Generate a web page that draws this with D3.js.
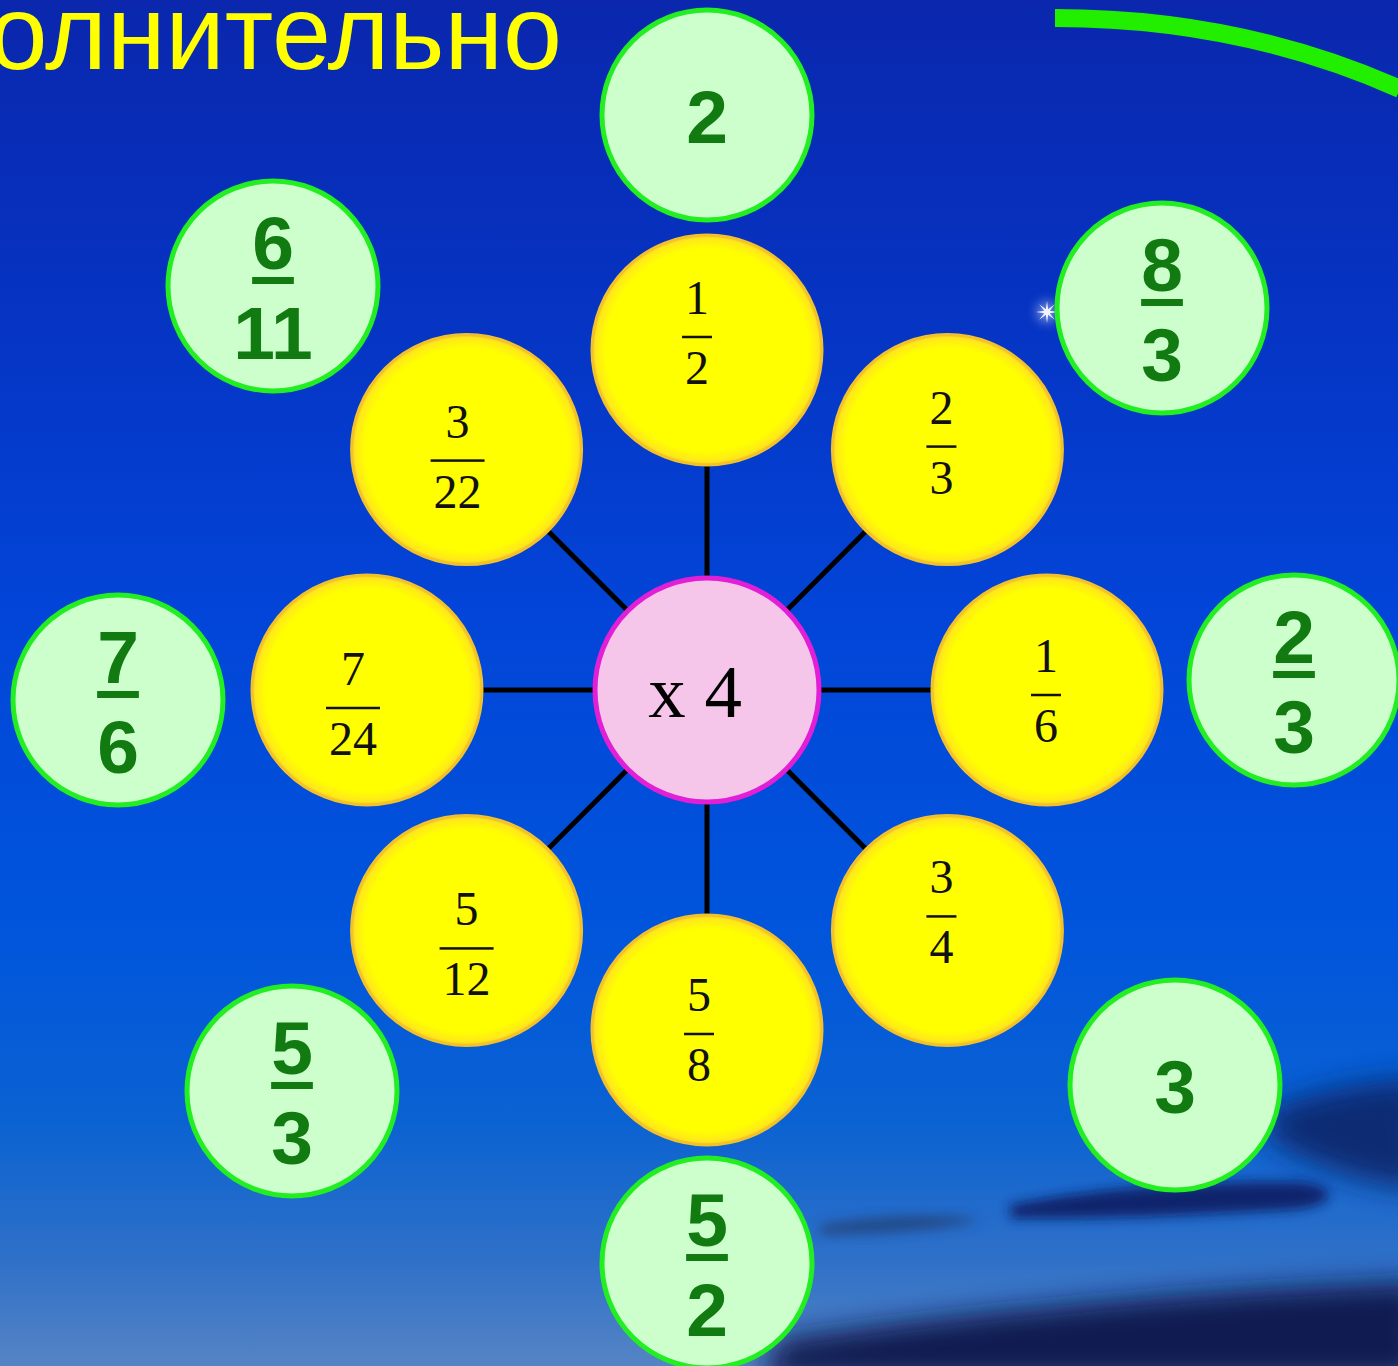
<!DOCTYPE html>
<html>
<head>
<meta charset="utf-8">
<script src="https://cdn.jsdelivr.net/npm/d3@7"></script>
<style>
  html, body { margin: 0; padding: 0; background: #0040d0; }
  svg { display: block; }
</style>
</head>
<body>
<svg id="chart" width="1398" height="1366"></svg>
<script>
// ---------- data ----------
const titleText = "Дополнительно";
const centerOperation = "x 4";
// order: top, top-right, right, bottom-right, bottom, bottom-left, left, top-left
const innerNumerators   = [1, 2, 1, 3, 5, 5, 7, 3];
const innerDenominators = [2, 3, 6, 4, 8, 12, 24, 22];
const outerNumerators   = [2, 8, 2, 3, 5, 5, 7, 6];
const outerDenominators = [null, 3, 3, null, 2, 3, 6, 11];

// ---------- layout (not data) ----------
const W = 1398, H = 1366;
const centre = { x: 707, y: 690 };
const innerDist = 340, innerR = 115, centreR = 112, outerR = 105;
const innerLabelShift = [[-10,-13],[-6,-3],[-1,5],[-6,-14],[-8,4],[0,18],[-14,18],[-9,11]];
const outerOffsets = [[0,-575],[455,-382],[587,-10],[468,395],[0,573],[-415,401],[-589,10],[-434,-404]];

const svg = d3.select("#chart");
const defs = svg.append("defs");

// background gradient
const bg = defs.append("linearGradient").attr("id","bg").attr("x1",0).attr("y1",0).attr("x2",0).attr("y2",1);
[[0,"#0a27ad"],[0.22,"#0633c2"],[0.45,"#0245d8"],[0.68,"#0055dc"],[0.82,"#0a62d2"],[0.92,"#2e70c8"],[1,"#5584c4"]]
  .forEach(([o,c]) => bg.append("stop").attr("offset",o).attr("stop-color",c));
svg.append("rect").attr("width",W).attr("height",H).attr("fill","url(#bg)");

const blur = defs.append("filter").attr("id","blur").attr("x","-50%").attr("y","-50%").attr("width","200%").attr("height","200%");
blur.append("feGaussianBlur").attr("stdDeviation",14);
const blurS = defs.append("filter").attr("id","blurS").attr("x","-50%").attr("y","-50%").attr("width","200%").attr("height","200%");
blurS.append("feGaussianBlur").attr("stdDeviation",6);

// clouds at bottom right
const clouds = svg.append("g");
clouds.append("path").attr("d","M1270,1110 C1320,1088 1380,1080 1420,1078 L1420,1190 C1370,1185 1310,1165 1270,1140 Z")
  .attr("fill","#102063").attr("filter","url(#blur)").attr("opacity",0.85);
clouds.append("path").attr("d","M1010,1205 C1080,1190 1200,1180 1300,1182 C1340,1186 1340,1206 1290,1210 C1200,1215 1090,1220 1010,1218 Z")
  .attr("fill","#0d1d62").attr("filter","url(#blurS)").attr("opacity",0.9);
clouds.append("path").attr("d","M780,1340 C900,1320 1100,1300 1250,1290 C1330,1285 1400,1282 1420,1282 L1420,1380 L760,1380 Z")
  .attr("fill","#0a154c").attr("filter","url(#blur)").attr("opacity",0.95);
clouds.append("path").attr("d","M820,1225 C870,1215 940,1212 980,1220 C950,1230 880,1235 820,1235 Z")
  .attr("fill","#24355f").attr("filter","url(#blurS)").attr("opacity",0.6);

// sparkle star
const sp = svg.append("g").attr("transform","translate(1047,312)");
sp.append("circle").attr("r",10).attr("fill","#ffffff").attr("opacity",0.5).attr("filter","url(#blurS)");
sp.append("path").attr("d", d3.range(16).map((i) => {
    const a = i * Math.PI / 8, r = i % 2 ? 3 : 11;
    return (i ? "L" : "M") + (r*Math.cos(a)).toFixed(2) + "," + (r*Math.sin(a)).toFixed(2);
  }).join("") + "Z").attr("fill","#ffffff").attr("opacity",0.9);

// title (cut at the left edge, as in the reference)
svg.append("text").attr("x",562).attr("y",69).attr("text-anchor","end")
  .attr("font-family","'Liberation Sans', Arial, sans-serif").attr("font-size",106)
  .attr("fill","#ffff00").text(titleText);

// green arc
svg.append("path").attr("d","M1055,18 Q1240,18 1400,89")
  .attr("fill","none").attr("stroke","#22ee00").attr("stroke-width",18);

// angle scale for inner positions
const angle = d3.scaleLinear().domain([0, innerNumerators.length]).range([0, 2*Math.PI]);
const inner = innerNumerators.map((n,i) => ({
  num: n, den: innerDenominators[i],
  x: centre.x + innerDist * Math.sin(angle(i)),
  y: centre.y - innerDist * Math.cos(angle(i)),
  sh: innerLabelShift[i]
}));

// spokes
svg.append("g").selectAll("line").data(inner).join("line")
  .attr("x1",centre.x).attr("y1",centre.y).attr("x2",d=>d.x).attr("y2",d=>d.y)
  .attr("stroke","#000").attr("stroke-width",5);

// yellow gradient
const yg = defs.append("radialGradient").attr("id","yg");
[[0,"#ffff00"],[0.88,"#ffff00"],[0.97,"#ffe81a"],[1,"#f6c526"]].forEach(([o,c]) => yg.append("stop").attr("offset",o).attr("stop-color",c));

// inner circles
const ig = svg.append("g").selectAll("g").data(inner).join("g");
ig.append("circle").attr("cx",d=>d.x).attr("cy",d=>d.y).attr("r",innerR)
  .attr("fill","url(#yg)").attr("stroke","#f3c22a").attr("stroke-width",3);
ig.each(function(d){
  const g = d3.select(this);
  const tx = d.x + d.sh[0], by = d.y + d.sh[1];
  const font = "'Liberation Serif', 'DejaVu Serif', serif";
  g.append("text").attr("x",tx).attr("y",by-23).attr("text-anchor","middle")
    .attr("font-family",font).attr("font-size",48).attr("fill","#111").text(d.num);
  const den = g.append("text").attr("x",tx).attr("y",by+47).attr("text-anchor","middle")
    .attr("font-family",font).attr("font-size",48).attr("fill","#111").text(d.den);
  const w = den.node().getComputedTextLength() + 6;
  g.append("rect").attr("x",tx - w/2).attr("y",by-1.25).attr("width",w).attr("height",2.5).attr("fill","#111");
});

// centre circle
svg.append("circle").attr("cx",centre.x).attr("cy",centre.y).attr("r",centreR)
  .attr("fill","#f5c6ea").attr("stroke","#e21fd6").attr("stroke-width",5);
svg.append("text").attr("x",centre.x-12).attr("y",centre.y+27).attr("text-anchor","middle")
  .attr("font-family","'Liberation Serif', serif").attr("font-size",75).attr("fill","#000")
  .attr("xml:space","preserve").text(centerOperation);

// outer answers
const outer = outerNumerators.map((n,i) => ({
  num: n, den: outerDenominators[i],
  x: centre.x + outerOffsets[i][0], y: centre.y + outerOffsets[i][1]
}));
const og = svg.append("g").selectAll("g").data(outer).join("g");
og.append("circle").attr("cx",d=>d.x).attr("cy",d=>d.y).attr("r",outerR)
  .attr("fill","#ccffcc").attr("stroke","#22ee22").attr("stroke-width",5);
og.each(function(d){
  const g = d3.select(this);
  const font = "'Liberation Sans', Arial, sans-serif";
  const col = "#117a11";
  if (d.den === null) {
    g.append("text").attr("x",d.x).attr("y",d.y+28).attr("text-anchor","middle")
      .attr("font-family",font).attr("font-weight","bold").attr("font-size",75).attr("fill",col).text(d.num);
  } else {
    const nt = g.append("text").attr("x",d.x).attr("y",d.y-17).attr("text-anchor","middle")
      .attr("font-family",font).attr("font-weight","bold").attr("font-size",75).attr("fill",col).text(d.num);
    const w = nt.node().getComputedTextLength();
    g.append("rect").attr("x",d.x - w/2).attr("y",d.y-9).attr("width",w).attr("height",7).attr("fill",col);
    g.append("text").attr("x",d.x).attr("y",d.y+73).attr("text-anchor","middle")
      .attr("font-family",font).attr("font-weight","bold").attr("font-size",75).attr("fill",col).text(d.den);
  }
});
</script>
</body>
</html>
